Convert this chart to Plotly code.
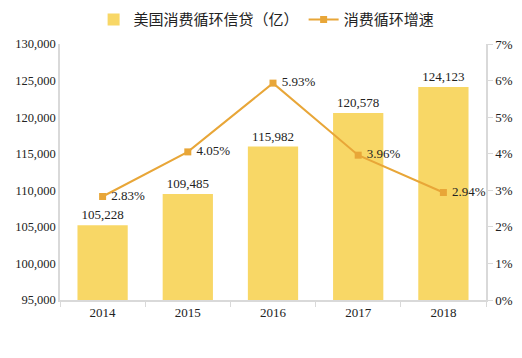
import plotly.graph_objects as go

years = ["2014", "2015", "2016", "2017", "2018"]
credit = [105228, 109485, 115982, 120578, 124123]
growth = [2.83, 4.05, 5.93, 3.96, 2.94]
credit_labels = ["105,228", "109,485", "115,982", "120,578", "124,123"]
growth_labels = ["2.83%", "4.05%", "5.93%", "3.96%", "2.94%"]

bar_color = "#F8D766"
line_color = "#E8A638"
serif = "Liberation Serif"

fig = go.Figure()
fig.add_trace(go.Bar(
    x=years, y=credit, name="美国消费循环信贷（亿）",
    marker=dict(color=bar_color, line=dict(width=0)),
    text=credit_labels, textposition="outside", cliponaxis=False,
    textfont=dict(family=serif, size=13, color="#222"),
    width=0.59,
))
fig.add_trace(go.Scatter(
    x=years, y=growth, name="消费循环增速", yaxis="y2",
    mode="lines+markers+text",
    line=dict(color=line_color, width=2),
    marker=dict(symbol="square", size=7, color=line_color),
    text=[" " + t for t in growth_labels], textposition="middle right",
    textfont=dict(family=serif, size=13, color="#222"),
    cliponaxis=False,
))

fig.update_layout(
    width=522, height=358,
    margin=dict(l=60, r=36, t=44, b=58, autoexpand=False),
    plot_bgcolor="white", paper_bgcolor="white",
    font=dict(family=serif, size=13, color="#222"),
    showlegend=True,
    legend=dict(orientation="h", x=0.485, xanchor="center", yref="container",
                y=0.945, yanchor="middle",
                font=dict(family="Noto Sans CJK SC", size=15, color="#222"),
                itemwidth=30),
    xaxis=dict(showline=True, linecolor="#D9D9D9", linewidth=1.5,
               ticks="outside", tickcolor="#D9D9D9", ticklen=5,
               tickson="boundaries", showgrid=False, automargin=False,
               tickfont=dict(family=serif, size=13)),
    yaxis=dict(range=[95000, 130000], dtick=5000, tickformat=",",
               showline=True, linecolor="#D9D9D9", linewidth=1.5,
               showgrid=False, zeroline=False, ticks="", automargin=False,
               tickfont=dict(family=serif, size=12.5)),
    yaxis2=dict(range=[0, 7], dtick=1, ticksuffix="%", overlaying="y", side="right",
                showline=True, linecolor="#D9D9D9", linewidth=1.5,
                ticks="outside", tickcolor="#D9D9D9", ticklen=5,
                showgrid=False, zeroline=False, automargin=False,
                tickfont=dict(family=serif, size=13)),
)

fig.write_html("out.html", config={"displayModeBar": False},
               post_script="document.body.style.margin='0';")
